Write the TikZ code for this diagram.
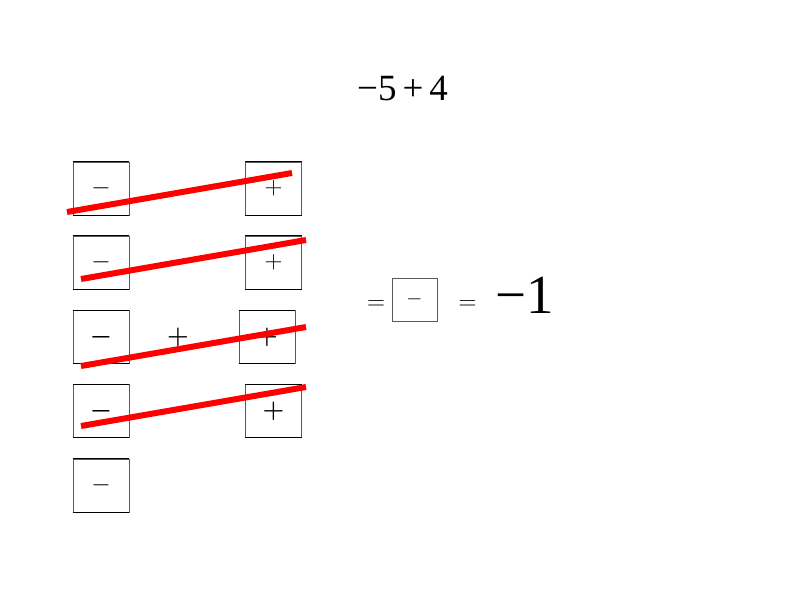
\documentclass[tikz,border=0pt]{standalone}
\usepackage{fontspec}
\setmainfont{Liberation Serif}
\begin{document}
\begin{tikzpicture}[x=1pt,y=-1pt,
  tile/.style={draw=black!65,line width=0.8pt,minimum width=56pt,minimum height=53pt,inner sep=0pt,font=\fontsize{24}{24}\selectfont},
  boldsym/.style={font=\fontsize{24}{24}\selectfont\boldmath},
  strike/.style={red,line width=6pt},
  bigtxt/.style={inner sep=0pt,anchor=base west}]
\useasboundingbox (0,0) rectangle (800,600);
% title
\node[bigtxt,font=\fontsize{37}{37}\selectfont] (title) at (357,100) {−5\kern6pt+\kern6pt4};
% left tiles
\node[tile] (m1) at (101,188.5) {$-$};
\node[tile] (m2) at (101,262.5) {$-$};
\node[tile,boldsym] (m3) at (101,337) {$-$};
\node[tile,boldsym] (m4) at (101,411) {$-$};
\node[tile] (m5) at (101,485.5) {$-$};
% right tiles
\node[tile] (p1) at (273.5,188.5) {$+$};
\node[tile] (p2) at (273.5,262.5) {$+$};
\node[tile,boldsym] (p3) at (267,337) {$+$};
\node[tile,boldsym] (p4) at (273.5,411) {$+$};
% top and bottom edges darker
\foreach \n in {m1,m2,m3,m4,m5,p1,p2,p3,p4}{
  \draw[black,line width=1.1pt] (\n.south west) -- (\n.south east);
  \draw[black,line width=1.1pt] (\n.north west) -- (\n.north east);
}
\node[inner sep=0pt,boldsym] (plus) at (178,337) {$+$};
% strike lines
\coordinate (s1a) at (67,212); \coordinate (s1b) at (292,173);
\coordinate (s2a) at (81,279); \coordinate (s2b) at (306,240);
\coordinate (s3a) at (81,366); \coordinate (s3b) at (306,327);
\coordinate (s4a) at (81,426); \coordinate (s4b) at (306,387);
\draw[strike] (s1a) -- (s1b);
\draw[strike] (s2a) -- (s2b);
\draw[strike] (s3a) -- (s3b);
\draw[strike] (s4a) -- (s4b);
% result
\node[inner sep=0pt,font=\fontsize{24}{24}\selectfont] (eq1) at (376,305) {$=$};
\node[draw=black!65,line width=0.8pt,minimum width=45pt,minimum height=43pt,inner sep=0pt,font=\fontsize{20}{20}\selectfont] (r) at (414.5,299.5) {$-$};
\node[inner sep=0pt,font=\fontsize{24}{24}\selectfont] (eq2) at (467.5,305) {$=$};
\node[bigtxt,font=\fontsize{55}{55}\selectfont] (res) at (495,313) {−1};
\end{tikzpicture}
\end{document}
